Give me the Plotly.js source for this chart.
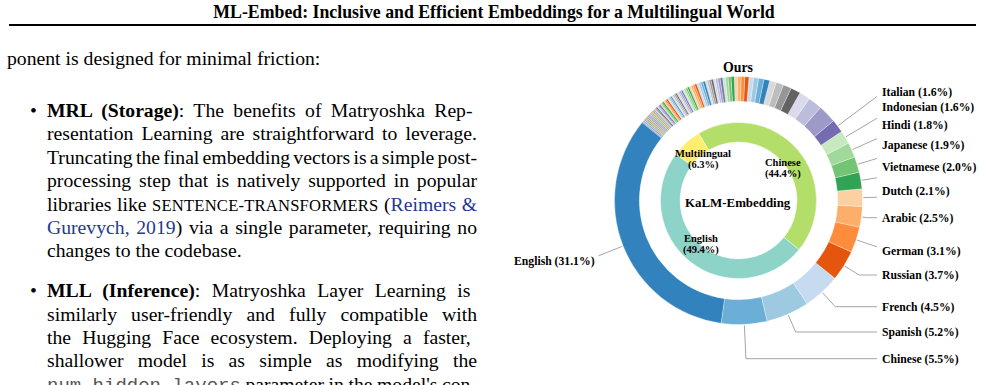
<!DOCTYPE html>
<html>
<head>
<meta charset="utf-8">
<script src="https://cdn.plot.ly/plotly-3.0.1.min.js"></script>
<style>
html,body{margin:0;padding:0;background:#fff;}
body{width:985px;height:385px;overflow:hidden;position:relative;font-family:"Liberation Serif","Times New Roman",serif;color:#000;}
.ln{position:absolute;font-size:19.7px;line-height:20px;white-space:nowrap;}
.sc{font-size:16.6px;letter-spacing:0.2px;}
.cite{color:#1f3a8f;}
.tt{font-family:"Liberation Mono","DejaVu Sans Mono",monospace;color:#555;font-size:19px;}
#hdr{position:absolute;left:0;top:4px;width:988px;text-align:center;font-size:17.8px;line-height:17.8px;font-weight:bold;white-space:nowrap;}
#rule{position:absolute;left:9px;top:24px;width:967px;height:2px;background:#000;}
#chart{position:absolute;left:0;top:0;width:985px;height:385px;}
</style>
</head>
<body>
<div id="hdr">ML-Embed: Inclusive and Efficient Embeddings for a Multilingual World</div>
<div id="rule"></div>

<div class="ln" style="left:7px;top:48.4px;">ponent is designed for minimal friction:</div>

<div class="ln" style="left:30px;top:100px;">•</div>
<div class="ln j" style="left:47px;top:100px;"><b>MRL (Storage)</b>:  The benefits of Matryoshka Rep-</div>
<div class="ln j" style="left:47px;top:123.4px;">resentation Learning are straightforward to leverage.</div>
<div class="ln j" style="left:47px;top:146.8px;">Truncating the final embedding vectors is a simple post-</div>
<div class="ln j" style="left:47px;top:170.2px;">processing step that is natively supported in popular</div>
<div class="ln j" style="left:47px;top:193.6px;">libraries like <span class="sc">SENTENCE-TRANSFORMERS</span> (<span class="cite">Reimers &amp;</span></div>
<div class="ln j" style="left:47px;top:217px;"><span class="cite">Gurevych, 2019</span>) via a single parameter, requiring no</div>
<div class="ln" style="left:47px;top:240.4px;">changes to the codebase.</div>

<div class="ln" style="left:30px;top:280.1px;">•</div>
<div class="ln j" style="left:47px;top:280.1px;"><b>MLL (Inference)</b>:  Matryoshka Layer Learning is</div>
<div class="ln j" style="left:47px;top:303.5px;">similarly user-friendly and fully compatible with</div>
<div class="ln j" style="left:47px;top:326.9px;">the Hugging Face ecosystem.  Deploying a faster,</div>
<div class="ln j" style="left:47px;top:350.3px;">shallower model is as simple as modifying the</div>
<div class="ln j" style="left:47px;top:373.7px;"><span class="tt">num_hidden_layers</span> parameter in the model's con-</div>

<div id="chart"></div>

<script>
// ---------------- data ----------------
const outerLabels = ['English','Chinese','Spanish','French','Russian','German','Arabic','Dutch',
                     'Vietnamese','Japanese','Hindi','Indonesian','Italian'];
const outerPct = [31.1, 5.5, 5.2, 4.5, 3.7, 3.1, 2.5, 2.1, 2.0, 1.9, 1.8, 1.6, 1.6];
const otherPct = [
  2.2, 1.7, 1.3, 1.2, 1.0, 0.9, 0.8,
  0.7, 0.65, 0.6, 0.55, 0.5, 0.45, 0.42, 0.4,
  0.38, 0.36, 0.34, 0.32, 0.3, 0.29, 0.28, 0.27, 0.26, 0.25, 0.24, 0.23,
  0.28, 0.27, 0.26, 0.26, 0.25, 0.24, 0.24, 0.23, 0.22, 0.22, 0.21, 0.21, 0.2, 0.2, 0.19, 0.19, 0.18, 0.18, 0.18, 0.17,
  0.16, 0.15, 0.15, 0.15, 0.14, 0.14, 0.14, 0.14, 0.13, 0.13, 0.13, 0.13, 0.12, 0.12, 0.12, 0.12, 0.12, 0.11, 0.11, 0.11,
  0.05, 0.05, 0.05, 0.05, 0.05, 0.05, 0.05, 0.05, 0.05, 0.05, 0.05, 0.05, 0.05, 0.05,
  0.05, 0.05, 0.05, 0.05, 0.05, 0.05, 0.05, 0.05, 0.05, 0.05, 0.05, 0.05, 0.05, 0.05,
  0.05, 0.05, 0.05, 0.05, 0.05, 0.05, 0.05, 0.05, 0.05, 0.05, 0.05, 0.05, 0.05, 0.05
];
const innerLabels = ['English', 'Chinese', 'Multilingual'];
const innerPct = [49.4, 44.4, 6.3];
const centerText = 'KaLM-Embedding';
const chartTitle = 'Ours';

// ---------------- styling / layout constants ----------------
const W = 985, H = 385;
const CX = 738.5, CY = 200.5, R_OUT = 124, R_IN = 78;
const OUT_ROT = -172, IN_ROT = 129;
const FONT = 'Liberation Serif, Times New Roman, serif';
const tab20c = ['#3182bd','#6baed6','#9ecae1','#c6dbef','#e6550d','#fd8d3c','#fdae6b','#fdd0a2',
                '#31a354','#74c476','#a1d99b','#c7e9c0','#756bb1','#9e9ac8','#bcbddc','#dadaeb',
                '#636363','#969696','#bdbdbd','#d9d9d9'];
const innerColors = ['#8dd3c7', '#b3de69', '#ffed6f'];
// label anchor positions (px): text centre y for each labelled outer slice
const labelY = [261, 358.7, 332, 306.7, 275, 251, 217.7, 191, 167, 145, 125, 107, 91.7];
const LABEL_X_RIGHT = 880, LABEL_X_LEFT = 596.5;
// inner labels: [x, y of name line, y of percent line]
const innerLabelPos = [[701, 237.8, 249.5], [783, 161.3, 173], [703, 152.3, 164]];

// ---------------- justify text lines ----------------
function justify() {
  document.querySelectorAll('.j').forEach(el => {
    el.style.wordSpacing = '0px';
    const w = el.getBoundingClientRect().width;
    const n = (el.textContent.match(/ /g) || []).length;
    if (n > 0) el.style.wordSpacing = ((430 - w) / n) + 'px';
  });
}
justify();
if (document.fonts && document.fonts.ready) document.fonts.ready.then(justify);

// ---------------- chart ----------------
const values = outerPct.concat(otherPct);
const names = outerLabels.concat(otherPct.map((_, i) => 'Other language ' + (i + 1)));
const colors = values.map((_, i) => tab20c[i % 20]);
const edgeWidths = values.map(v => v >= 0.15 ? 0.3 : 0);

function dom(r) {
  return {x: [(CX - r) / W, (CX + r) / W], y: [(H - CY - r) / H, (H - CY + r) / H]};
}
const px = x => x / W, py = y => 1 - y / H;

const outer = {
  type: 'pie', labels: names, values: values, sort: false, direction: 'counterclockwise',
  rotation: OUT_ROT, hole: 0.8, domain: dom(R_OUT), textinfo: 'none', hoverinfo: 'none',
  marker: {colors: colors, line: {color: '#ffffff', width: edgeWidths}}, showlegend: false
};
const inner = {
  type: 'pie', labels: innerLabels, values: innerPct, sort: false, direction: 'counterclockwise',
  rotation: IN_ROT, hole: 0.75, domain: dom(R_IN), textinfo: 'none', hoverinfo: 'none',
  marker: {colors: innerColors, line: {color: '#ffffff', width: 0.4}}, showlegend: false
};

// mid angles of the labelled outer slices (degrees clockwise from 12 o'clock), same rule as plotly
const total = values.reduce((a, b) => a + b, 0);
const f = 360 / total;
function midAngle(i) {
  if (i === 0) return OUT_ROT + values[0] * f / 2;
  let c = 0;
  for (let k = 1; k < i; k++) c += values[k];
  return OUT_ROT - (c + values[i] / 2) * f;
}

const shapes = [], annotations = [];
const lineStyle = {color: '#a6a6a6', width: 1};
outerLabels.forEach((lab, i) => {
  const th = midAngle(i) * Math.PI / 180;
  const dx = Math.sin(th), dy = -Math.cos(th);
  const r0 = R_OUT + 1;
  const P = [CX + r0 * dx, CY + r0 * dy];
  const ly = labelY[i];
  const right = P[0] > CX;
  const lx = right ? LABEL_X_RIGHT - 3 : LABEL_X_LEFT + 2;
  const t = (ly - P[1]) / dy;
  const E = [P[0] + t * dx, ly];
  const overshoot = right ? E[0] >= lx : E[0] <= lx;
  if (overshoot) {
    const t2 = (lx - P[0]) / dx;
    const Q = [lx, P[1] + t2 * dy];
    shapes.push({type: 'line', xref: 'paper', yref: 'paper', x0: px(P[0]), y0: py(P[1]), x1: px(Q[0]), y1: py(Q[1]), line: lineStyle});
  } else {
    shapes.push({type: 'line', xref: 'paper', yref: 'paper', x0: px(P[0]), y0: py(P[1]), x1: px(E[0]), y1: py(E[1]), line: lineStyle});
    shapes.push({type: 'line', xref: 'paper', yref: 'paper', x0: px(E[0]), y0: py(E[1]), x1: px(lx), y1: py(ly), line: lineStyle});
  }
  annotations.push({
    xref: 'paper', yref: 'paper', x: px(right ? LABEL_X_RIGHT : LABEL_X_LEFT), y: py(ly + 0.8),
    xanchor: right ? 'left' : 'right', yanchor: 'middle', showarrow: false,
    text: '<b>' + lab + ' (' + outerPct[i].toFixed(1) + '%)</b>',
    font: {family: FONT, size: 11.7, color: '#000'}
  });
});

innerLabels.forEach((lab, i) => {
  const p = innerLabelPos[i];
  annotations.push({xref: 'paper', yref: 'paper', x: px(p[0]), y: py(p[1] + 0.8), xanchor: 'center', yanchor: 'middle',
    showarrow: false, text: '<b>' + lab + '</b>', font: {family: FONT, size: 10.5, color: '#000'}});
  annotations.push({xref: 'paper', yref: 'paper', x: px(p[0]), y: py(p[2] + 0.8), xanchor: 'center', yanchor: 'middle',
    showarrow: false, text: '<b>(' + innerPct[i].toFixed(1) + '%)</b>', font: {family: FONT, size: 10.5, color: '#000'}});
});

annotations.push({xref: 'paper', yref: 'paper', x: px(737.5), y: py(202.5), xanchor: 'center', yanchor: 'middle',
  showarrow: false, text: '<b>' + centerText + '</b>', font: {family: FONT, size: 12.9, color: '#000'}});

const layout = {
  width: W, height: H, margin: {l: 0, r: 0, t: 0, b: 0, pad: 0},
  paper_bgcolor: 'rgba(0,0,0,0)', plot_bgcolor: 'rgba(0,0,0,0)', showlegend: false,
  title: {text: '<b>' + chartTitle + '</b>', x: px(738), xanchor: 'center', y: py(67), yanchor: 'middle',
          xref: 'paper', yref: 'container', font: {family: FONT, size: 13.8, color: '#000'}},
  shapes: shapes, annotations: annotations
};

Plotly.newPlot('chart', [outer, inner], layout, {staticPlot: true, displayModeBar: false});
</script>
</body>
</html>
